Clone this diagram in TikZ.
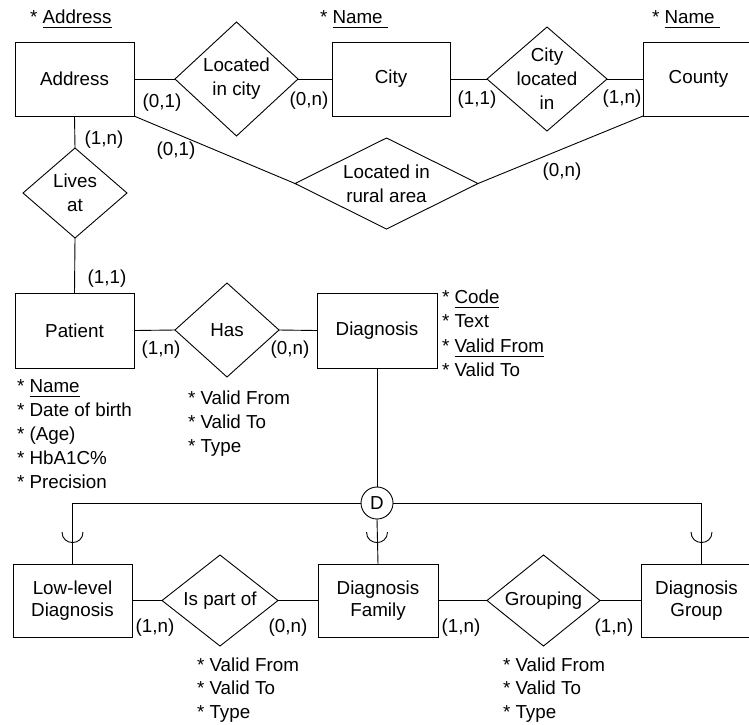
\documentclass[tikz,border=0pt]{standalone}
\usepackage{fontspec}
\setmainfont{Liberation Sans}
\usetikzlibrary{shapes.geometric}
\newcommand{\ulx}[1]{\underline{#1\vphantom{\vrule depth 3pt}}}
\begin{document}
\begin{tikzpicture}[x=1pt,y=-1pt,line width=0.9pt,
  every node/.style={font=\fontsize{18.8}{24}\selectfont,inner sep=0pt,outer sep=0pt},
  ent/.style={draw,rectangle,minimum width=#1,minimum height=74,align=center,
    font=\fontsize{18.8}{22.5}\selectfont},
  rel/.style 2 args={draw,diamond,minimum width=#1,minimum height=#2},
  rtext/.style={align=center},
  card/.style={},
  attr/.style={anchor=base west}]
\useasboundingbox (0,0) rectangle (749,724);
\clip (0,0) rectangle (749,724);

% entities
\node[ent=119] (addr) at (74.5,79) {Address};
\node[ent=118] (city) at (391,79) {City};
\node[ent=111] (county) at (698.5,79) {County};
\node[ent=119,minimum height=75] (pat) at (74.5,330.5) {Patient};
\node[ent=120,minimum height=75] (diag) at (377,330.5) {Diagnosis};
\node[ent=119,minimum height=73] (low) at (72.5,600.5) {Low-level\\Diagnosis};
\node[ent=120,minimum height=73] (fam) at (378,600.5) {Diagnosis\\Family};
\node[ent=111,minimum height=73] (grp) at (696.5,600.5) {Diagnosis\\Group};

% relationships
\node[rel={123}{114}] (lic) at (236.5,79) {};
\node[rtext] (lic-t) at (lic) {Located\\in city};
\node[rel={120}{104}] (cli) at (547,79) {};
\node[rtext] (cli-t) at (cli) {City\\located\\in};
\node[rel={183}{91}] (rur) at (386.5,183.5) {};
\node[rtext] (rur-t) at (rur) {Located in\\rural area};
\node[rel={104}{90}] (liv) at (75,193) {};
\node[rtext] (liv-t) at (liv) {Lives\\at};
\node[rel={104}{94}] (has) at (227,330) {};
\node[rtext] (has-t) at (has) {Has};
\node[rel={116}{91}] (ipo) at (220,600.5) {};
\node[rtext] (ipo-t) at (ipo) {Is part of};
\node[rel={113}{91}] (gpg) at (543.5,600.5) {};
\node[rtext] (gpg-t) at (gpg) {Grouping};

% disjoint circle
\node[draw,circle,minimum size=32] (D) at (377,503) {D};

% connectors
\draw (addr.east) -- (lic.west);
\draw (lic.east) -- (city.west);
\draw (city.east) -- (cli.west);
\draw (cli.east) -- (county.west);
\draw (addr.south east) -- (rur.west);
\draw (rur.east) -- (county.south west);
\draw (addr.south) -- (liv.north);
\draw (liv.south) -- (pat.north);
\draw (pat.east) -- (has.west);
\draw (has.east) -- (diag.west);
\draw (low.east) -- (ipo.west);
\draw (ipo.east) -- (fam.west);
\draw (fam.east) -- (gpg.west);
\draw (gpg.east) -- (grp.west);
\draw (diag.south) -- (D.north);
\coordinate (gtop) at (701.5,564);
\draw (D.west) -| (low.north);
\draw (D.east) -| (gtop);
\draw (D.south) -- (fam.north);

% subset cups
\coordinate (cupl) at (72.5,532);
\coordinate (cupm) at (377,532);
\coordinate (cupr) at (701.5,532);
\foreach \c in {cupl,cupm,cupr}
  \draw ([xshift=-10.5pt]\c) .. controls +(0,14) and +(0,14) .. ([xshift=10.5pt]\c);

% cardinalities
\node[card] (k1) at (162,103) {(0,1)};
\node[card] (k2) at (309,101) {(0,n)};
\node[card] (k3) at (477,100) {(1,1)};
\node[card] (k4) at (622,99) {(1,n)};
\node[card] (k5) at (104,140) {(1,n)};
\node[card] (k6) at (176,151) {(0,1)};
\node[card] (k7) at (562,172) {(0,n)};
\node[card] (k8) at (107,279) {(1,1)};
\node[card] (k9) at (161,350) {(1,n)};
\node[card] (k10) at (290,350) {(0,n)};
\node[card] (k11) at (155,628) {(1,n)};
\node[card] (k12) at (288,628) {(0,n)};
\node[card] (k13) at (461,628) {(1,n)};
\node[card] (k14) at (614,628) {(1,n)};

% key attributes above
\node[attr] (a-addr) at (30,23) {* \ulx{Address}};
\node[attr] (a-city) at (320,23) {* \ulx{Name\ }};
\node[attr] (a-county) at (652,23) {* \ulx{Name\ }};

% attribute lists
\foreach \t [count=\i] in {{* \ulx{Code}},{* Text},{* \ulx{Valid From}},{* Valid To}}
  \node[attr] (ad\i) at (442,{303+24.5*(\i-1)}) {\t};
\foreach \t [count=\i] in {{* \ulx{Name}},{* Date of birth},{* (Age)},{* HbA1C\%},{* Precision}}
  \node[attr] (ap\i) at (17,{392+24*(\i-1)}) {\t};
\foreach \t [count=\i] in {{* Valid From},{* Valid To},{* Type}}
  \node[attr] (ah\i) at (188,{404+24*(\i-1)}) {\t};
\foreach \t [count=\i] in {{* Valid From},{* Valid To},{* Type}}
  \node[attr] (ai\i) at (197,{671+23.5*(\i-1)}) {\t};
\foreach \t [count=\i] in {{* Valid From},{* Valid To},{* Type}}
  \node[attr] (ag\i) at (503,{671+23.5*(\i-1)}) {\t};
\end{tikzpicture}
\end{document}
